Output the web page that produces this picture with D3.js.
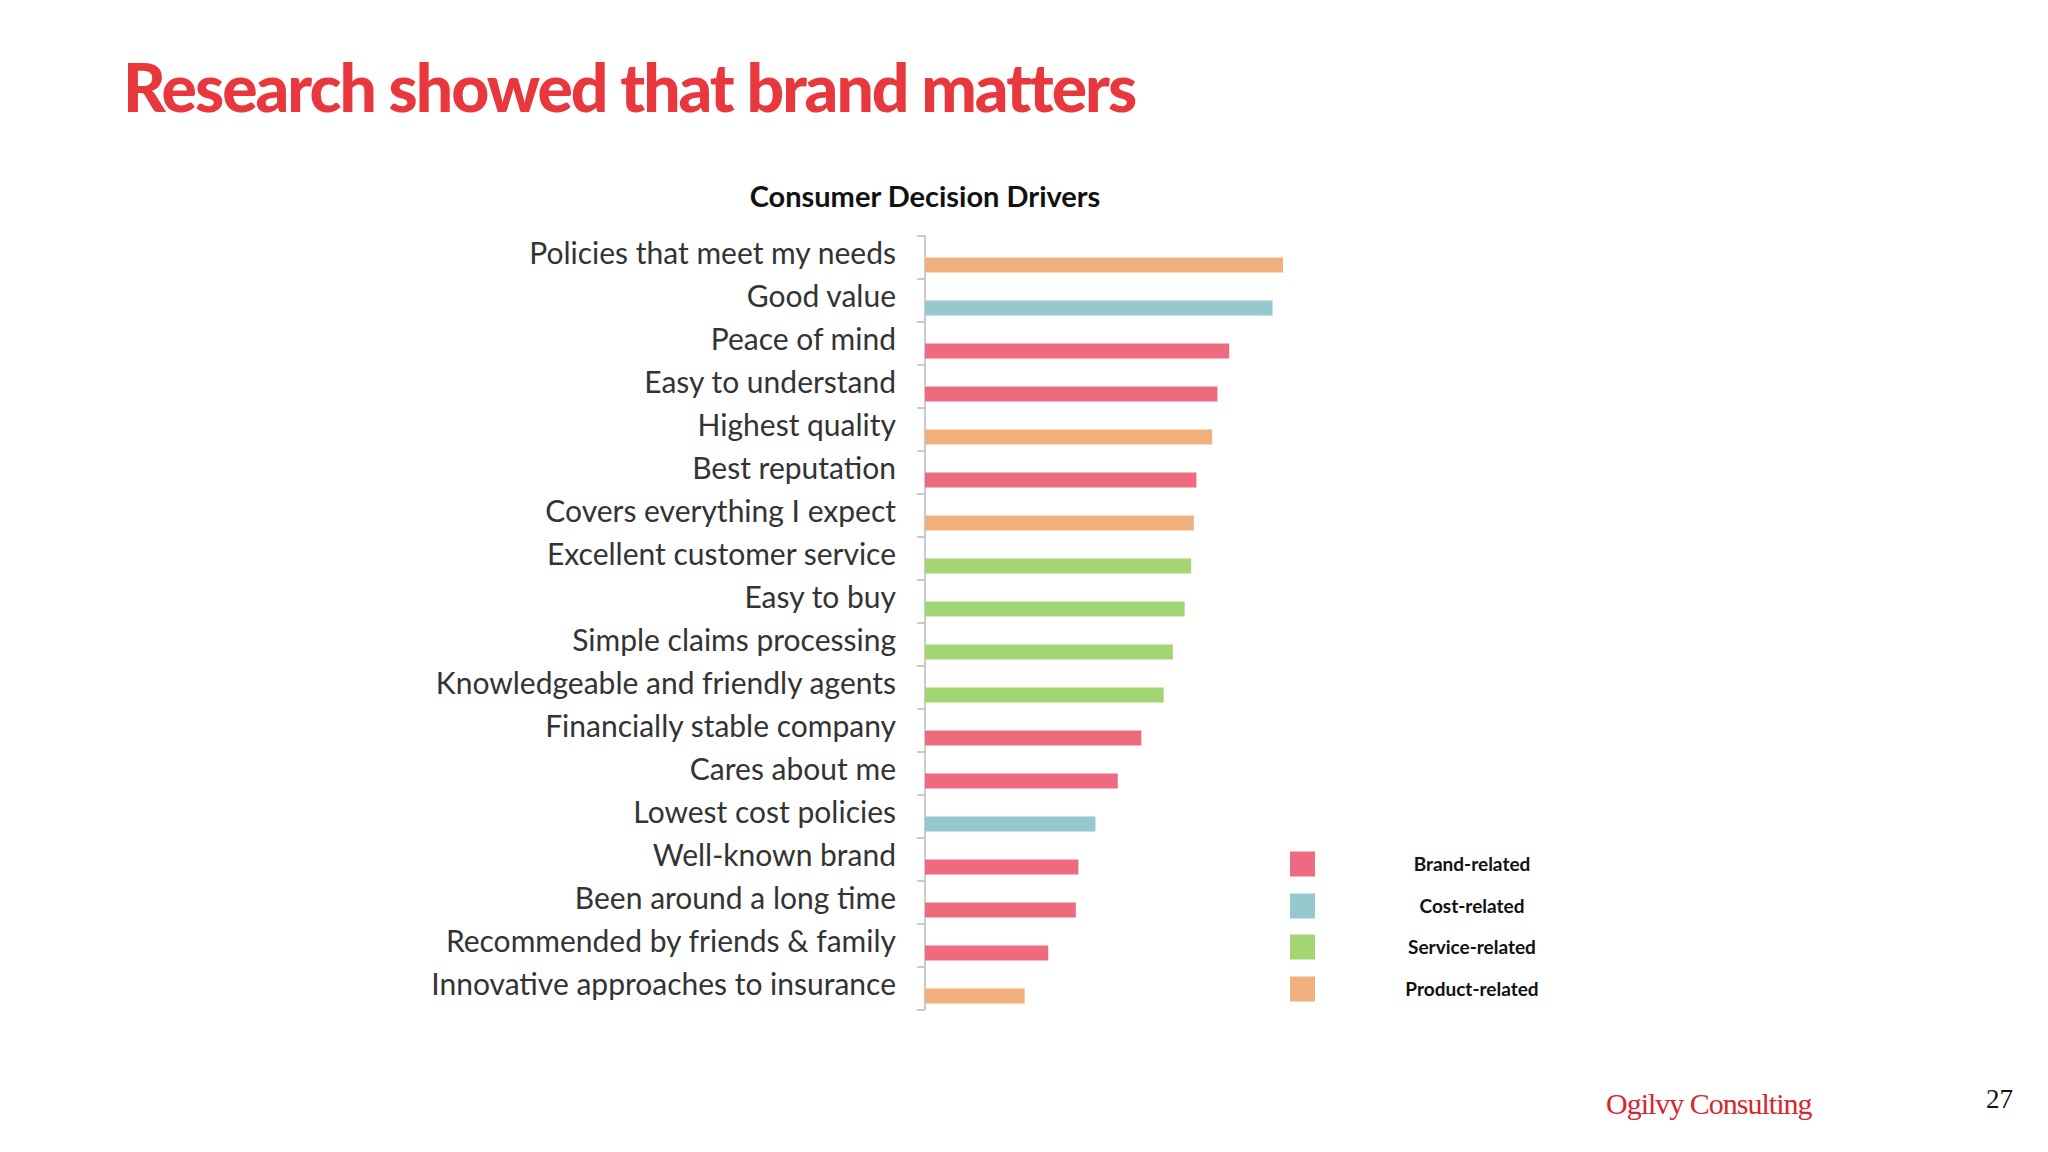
<!DOCTYPE html>
<html><head><meta charset="utf-8">
<script src="https://cdn.jsdelivr.net/npm/d3@7"></script>
<style>body{margin:0;background:#fff}</style>
</head><body>
<svg id="c" width="2048" height="1152"></svg>
<script>
const drivers = ['Policies that meet my needs','Good value','Peace of mind','Easy to understand','Highest quality','Best reputation','Covers everything I expect','Excellent customer service','Easy to buy','Simple claims processing','Knowledgeable and friendly agents','Financially stable company','Cares about me','Lowest cost policies','Well-known brand','Been around a long time','Recommended by friends & family','Innovative approaches to insurance'];
const scores = [273,265,232,223,219,207,205,203,198,189,182,165,147,130,117,115,94,76];
const kinds = ['Product','Cost','Brand','Brand','Product','Brand','Product','Service','Service','Service','Service','Brand','Brand','Cost','Brand','Brand','Brand','Product'];
const legendKinds = ['Brand','Cost','Service','Product'];
const legendColors = ['#ee6a7f','#96c8cd','#a3d672','#f0b07e'];

const svg = d3.select('#c');
const color = d3.scaleOrdinal().domain(legendKinds).range(legendColors);
const x = d3.scaleLinear().domain([0, 273]).range([925, 1283]);
const y = d3.scaleBand().domain(drivers).range([236, 1010]);

svg.append('text').attr('x', 123).attr('y', 112)
  .style('font', '900 66px Lato').attr('letter-spacing', -2).attr('fill', '#e8383d')
  .text('Research showed that brand matters');

svg.append('text').attr('x', 925).attr('y', 207).attr('text-anchor', 'middle')
  .style('font', 'bold 29px Lato').attr('fill', '#111').text('Consumer Decision Drivers');

// axis line with ticks at band edges
const ax = svg.append('g').attr('stroke', '#bbb').attr('stroke-width', 1.5);
ax.append('line').attr('x1', 925).attr('x2', 925).attr('y1', 236).attr('y2', 1010);
d3.range(drivers.length + 1).forEach(i => {
  const yy = 236 + i * y.step();
  ax.append('line').attr('x1', 917).attr('x2', 925).attr('y1', yy).attr('y2', yy);
});

svg.selectAll('rect.bar').data(drivers).join('rect').attr('class', 'bar')
  .attr('x', x(0)).attr('y', d => y(d) + y.bandwidth() * 0.5)
  .attr('width', (d, i) => x(scores[i]) - x(0)).attr('height', 15)
  .attr('fill', (d, i) => color(kinds[i]));

svg.selectAll('text.lab').data(drivers).join('text').attr('class', 'lab')
  .attr('x', 896).attr('y', d => y(d) + y.bandwidth() * 0.5 + 6)
  .attr('text-anchor', 'end').style('font', '30px Lato').attr('fill', '#333').text(d => d);

const lg = svg.selectAll('g.lg').data(legendKinds).join('g').attr('class', 'lg')
  .attr('transform', (d, i) => `translate(0,${[864, 906, 947, 989][i]})`);
lg.append('rect').attr('x', 1290).attr('y', -12.5).attr('width', 25).attr('height', 25).attr('fill', d => color(d));
lg.append('text').attr('x', 1472).attr('y', 7).attr('text-anchor', 'middle')
  .style('font', 'bold 19px Lato').attr('fill', '#111').text(d => d + '-related');

svg.append('text').attr('x', 1606).attr('y', 1114).style('font', '30px "Liberation Serif"')
  .attr('letter-spacing', -1).attr('fill', '#d8262f').text('Ogilvy Consulting');
svg.append('text').attr('x', 1986).attr('y', 1108).style('font', '27px "Liberation Serif"')
  .attr('fill', '#111').text('27');
</script>
</body></html>
